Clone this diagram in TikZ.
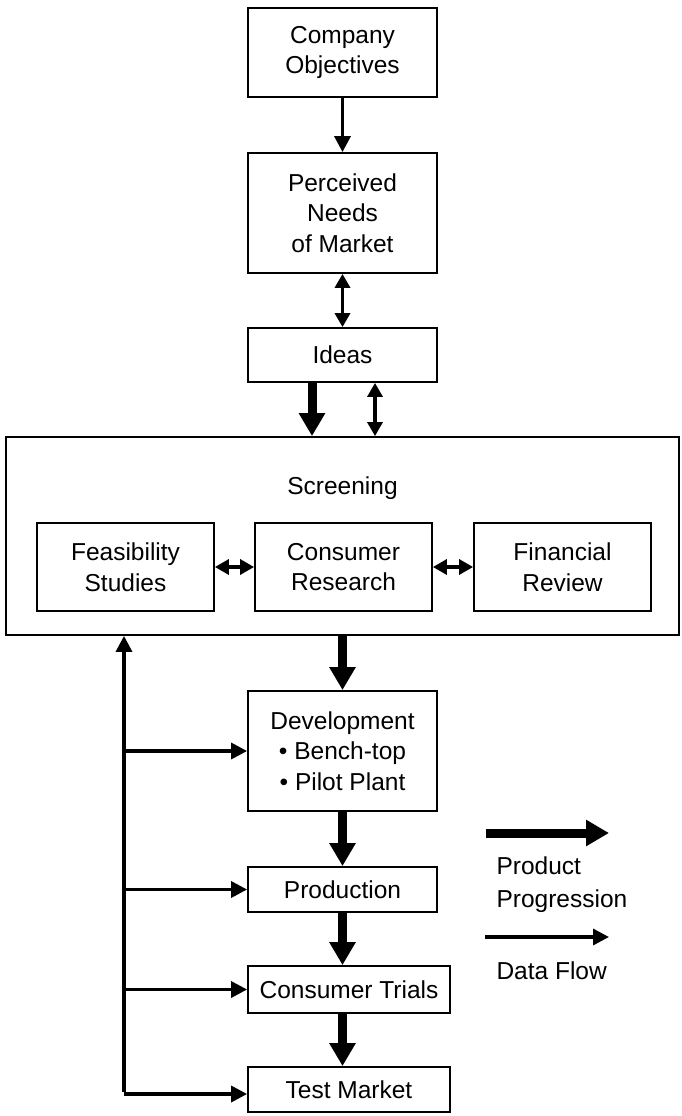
\documentclass[tikz,border=0pt]{standalone}
\usepackage{fontspec}
\setmainfont{Liberation Sans}
\usetikzlibrary{arrows.meta}
\tikzset{
  box/.style={draw, line width=1.8pt, align=center, inner sep=0pt},
  prog/.style={line width=9pt, -{Triangle[length=23pt,width=25pt]}},
  data/.style={line width=3.3pt, -{Triangle[length=16pt,width=16pt]}},
  both/.style={line width=3.3pt, {Triangle[length=14pt,width=15pt]}-{Triangle[length=14pt,width=15pt]}},
}
\begin{document}
\begin{tikzpicture}[x=1pt,y=-1pt,font=\fontsize{24.5}{30.5}\selectfont]
                \useasboundingbox (0,0) rectangle (681,1116);
                \node[box, minimum width=189pt, minimum height=89pt] (obj) at (342.5,52.5) {Company\\Objectives};
                \node[box, minimum width=189pt, minimum height=120pt] (needs) at (342.5,213) {Perceived\\Needs\\of Market};
                \node[box, minimum width=189pt, minimum height=54pt] (ideas) at (342.5,355) {Ideas};
                \node[box, minimum width=673pt, minimum height=198pt] (screen) at (342.5,536) {};
                \node (screentitle) at (342.5,488) {Screening};
                \node[box, minimum width=177pt, minimum height=88pt] (feas) at (125.5,567) {Feasibility\\Studies};
                \node[box, minimum width=177pt, minimum height=88pt] (cres) at (343.5,567) {Consumer\\Research};
                \node[box, minimum width=177pt, minimum height=88pt] (fin) at (562.5,567) {Financial\\Review};
                \node[box, minimum width=189pt, minimum height=120pt] (dev) at (342.5,751) {Development\\\textbullet\ Bench-top\\\textbullet\ Pilot Plant};
                \node[box, minimum width=189pt, minimum height=45pt] (prod) at (342.5,889.5) {Production};
                \node[box, minimum width=202pt, minimum height=47pt] (trials) at (349,989.5) {Consumer Trials};
                \node[box, minimum width=202pt, minimum height=45pt] (test) at (349,1089.5) {Test Market};

                \coordinate (ideasout) at (312,0);
                \coordinate (ideasback) at (375,0);
                \coordinate (fb) at (124,1094);
                \coordinate (pp1) at (486,833);
                \coordinate (pp2) at (609,833);
                \coordinate (df1) at (485,937);
                \coordinate (df2) at (609,937);
                \node[anchor=west, align=left, font=\fontsize{24.5}{33}\selectfont] (pplabel) at (493,884.5) {Product\\Progression};
                \node[anchor=west] (dflabel) at (493,971) {Data Flow};

                \draw[data] (obj) -- (needs);
                \draw[both] (needs) -- (ideas);
                \draw[prog] (ideas.south -| ideasout) -- (screen.north -| ideasout);
                \draw[both] (ideas.south -| ideasback) -- (screen.north -| ideasback);
                \draw[both] (feas) -- (cres);
                \draw[both] (cres) -- (fin);
                \draw[prog] (screen.south -| dev.north) -- (dev.north);
                \draw[prog] (dev) -- (prod);
                \draw[prog] (prod.south) -- (prod.south |- trials.north);
                \draw[prog] (prod.south |- trials.south) -- (prod.south |- test.north);
                \draw[data] ([yshift=1.6pt]fb) -- (fb |- screen.south);
                \draw[data] (dev.west -| fb) -- (dev.west);
                \draw[data] (prod.west -| fb) -- (prod.west);
                \draw[data] (trials.west -| fb) -- (trials.west);
                \draw[data] (fb) -- (fb -| test.west);
                \draw[prog] (pp1) -- (pp2);
                \draw[data] (df1) -- (df2);
\end{tikzpicture}
\end{document}
